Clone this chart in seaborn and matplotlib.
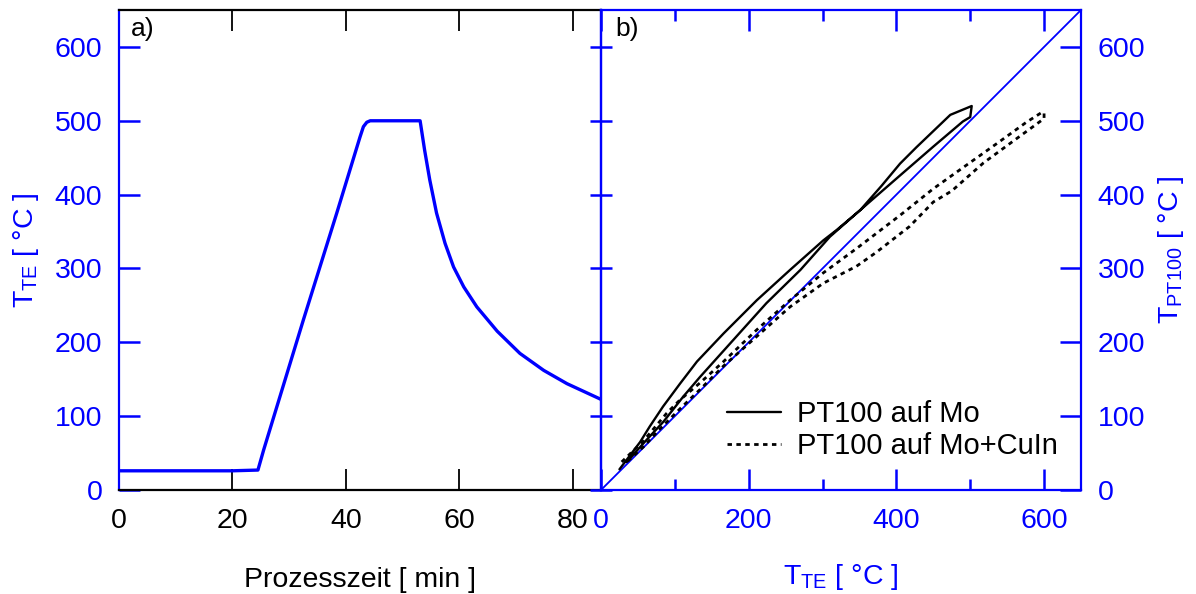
import numpy as np
import pandas as pd
import matplotlib
matplotlib.use("Agg")
import matplotlib.pyplot as plt
import seaborn as sns
from matplotlib.ticker import MultipleLocator

# ---------------- data ----------------
# panel a) thermocouple temperature over process time
time_min = [0, 10, 20, 24.5, 25.5, 32.5, 38.4, 42.5, 43.1, 43.7, 44.3, 48.0,
            53.1, 53.9, 54.8, 56.0, 57.5, 59.0, 60.8, 63.1, 66.7, 70.7, 74.9,
            79.0, 85.2]
t_te = [26, 26, 26, 27, 54, 230, 375, 478, 492, 498, 500, 500,
        500, 460, 420, 375, 334, 302, 275, 248, 215, 185, 162,
        144, 122]

# panel b) PT100 on Mo (closed loop, heating then cooling)
mo_te = [25, 53, 66, 84, 107, 130, 166, 211, 256, 301, 319, 351,
         405, 450, 490, 500, 502,
         473, 450, 427, 405, 380, 351, 310, 270, 224, 179, 134, 111, 85, 60, 35]
mo_pt = [28, 65, 86, 113, 144, 174, 212, 257, 298, 338, 352, 379,
         426, 465, 499, 505, 520,
         508, 486, 464, 442, 412, 379, 343, 298, 253, 203, 153, 126, 93, 66, 38]

# panel b) PT100 on Mo+CuIn (closed loop)
cuin_te = [28, 57, 89, 107, 134, 166, 211, 256, 301, 346, 405, 450, 495,
           540, 576, 598, 600, 600,
           585, 563, 518, 475, 450, 418, 373, 346, 301, 256, 211, 166, 134,
           107, 80, 57, 35]
cuin_pt = [38, 66, 104, 122, 145, 174, 217, 257, 294, 327, 372, 408, 440,
           472, 498, 512, 510, 503,
           492, 476, 443, 405, 390, 357, 322, 303, 280, 248, 208, 168, 136,
           110, 83, 58, 38]

identity = [0, 650]

series_labels = ["PT100 auf Mo", "PT100 auf Mo+CuIn"]
panel_labels = ["a)", "b)"]
xlabel_a = "Prozesszeit [ min ]"
label_te = r"T$_{\mathregular{TE}}$ [ °C ]"
label_pt = r"T$_{\mathregular{PT100}}$ [ °C ]"

# ---------------- style ----------------
sns.set_style("ticks")
plt.rcParams["font.family"] = ["Liberation Sans", "DejaVu Sans"]
plt.rcParams["mathtext.fontset"] = "custom"
plt.rcParams["mathtext.rm"] = "Liberation Sans"
plt.rcParams["mathtext.it"] = "Liberation Sans:italic"
plt.rcParams["mathtext.bf"] = "Liberation Sans:bold"
plt.rcParams["text.color"] = "black"

BLUE = "#0000ff"
FS = 20.5

W, H = 1196, 594
fig = plt.figure(figsize=(W / 100, H / 100), dpi=100)
axL = fig.add_axes([119 / W, (H - 490) / H, 482 / W, 480 / H])
axR = fig.add_axes([601 / W, (H - 490) / H, 480 / W, 480 / H])

# ---------------- panel a ----------------
dfa = pd.DataFrame({"t": time_min, "T": t_te})
sns.lineplot(data=dfa, x="t", y="T", ax=axL, color=BLUE, lw=2.4,
             sort=False, estimator=None)
axL.set_xlim(0, 85)
axL.set_ylim(0, 650)
axL.xaxis.set_major_locator(MultipleLocator(20))
axL.yaxis.set_major_locator(MultipleLocator(100))
axL.tick_params(axis="x", which="major", direction="in", length=15, width=1.3,
                top=True, bottom=True, colors="black", labelsize=FS, pad=13)
axL.tick_params(axis="y", which="major", direction="in", length=15, width=1.8,
                left=True, right=False, colors=BLUE, labelsize=FS, pad=12)
for s in ["top", "bottom"]:
    axL.spines[s].set_color("black")
    axL.spines[s].set_linewidth(1.6)
axL.spines["left"].set_color(BLUE)
axL.spines["left"].set_linewidth(1.6)
axL.spines["right"].set_visible(False)
axL.set_xlabel(xlabel_a, fontsize=FS, color="black", labelpad=24)
axL.set_ylabel(label_te, fontsize=FS, color=BLUE, labelpad=10)
axL.text(0.025, 0.985, panel_labels[0], transform=axL.transAxes,
         fontsize=19, va="top", ha="left", color="black")

# ---------------- panel b ----------------
sns.lineplot(x=identity, y=identity, ax=axR, color=BLUE, lw=1.3,
             sort=False, estimator=None)
dfm = pd.DataFrame({"te": mo_te, "pt": mo_pt})
dfc = pd.DataFrame({"te": cuin_te, "pt": cuin_pt})
sns.lineplot(data=dfm, x="te", y="pt", ax=axR, color="black", lw=1.7,
             sort=False, estimator=None, label=series_labels[0])
sns.lineplot(data=dfc, x="te", y="pt", ax=axR, color="black", lw=2.0,
             sort=False, estimator=None, label=series_labels[1],
             dashes=False)
axR.lines[-1].set_dashes([1.6, 1.6])

axR.set_xlim(0, 650)
axR.set_ylim(0, 650)
axR.xaxis.set_major_locator(MultipleLocator(200))
axR.xaxis.set_minor_locator(MultipleLocator(100))
axR.yaxis.set_major_locator(MultipleLocator(100))
axR.tick_params(axis="x", which="major", direction="in", length=15, width=1.8,
                top=True, bottom=True, colors=BLUE, labelsize=FS, pad=13)
axR.tick_params(axis="x", which="minor", direction="in", length=8, width=1.8,
                top=True, bottom=True, colors=BLUE)
axR.tick_params(axis="y", which="major", direction="in", length=15, width=1.8,
                left=False, right=True, labelleft=False, labelright=True,
                colors=BLUE, labelsize=FS, pad=12)
for s in axR.spines.values():
    s.set_color(BLUE)
    s.set_linewidth(1.6)
sec = axR.secondary_yaxis("left")
sec.yaxis.set_major_locator(MultipleLocator(100))
sec.tick_params(axis="y", direction="inout", length=16, width=1.8,
                colors=BLUE, labelleft=False)
sec.spines["left"].set_color(BLUE)
sec.spines["left"].set_linewidth(1.6)

axR.yaxis.set_label_position("right")
axR.set_ylabel(label_pt, fontsize=FS, color=BLUE, labelpad=8)
axR.set_xlabel(label_te, fontsize=FS, color=BLUE, labelpad=20)
axR.text(0.03, 0.985, panel_labels[1], transform=axR.transAxes,
         fontsize=19, va="top", ha="left", color="black")

leg = axR.legend(loc="lower left", bbox_to_anchor=(0.262, 0.062),
                 frameon=False, fontsize=21, handlelength=1.85,
                 handletextpad=0.55, labelspacing=0.15, borderpad=0,
                 borderaxespad=0, labelcolor="black")

fig.savefig("out.png", dpi=100)
